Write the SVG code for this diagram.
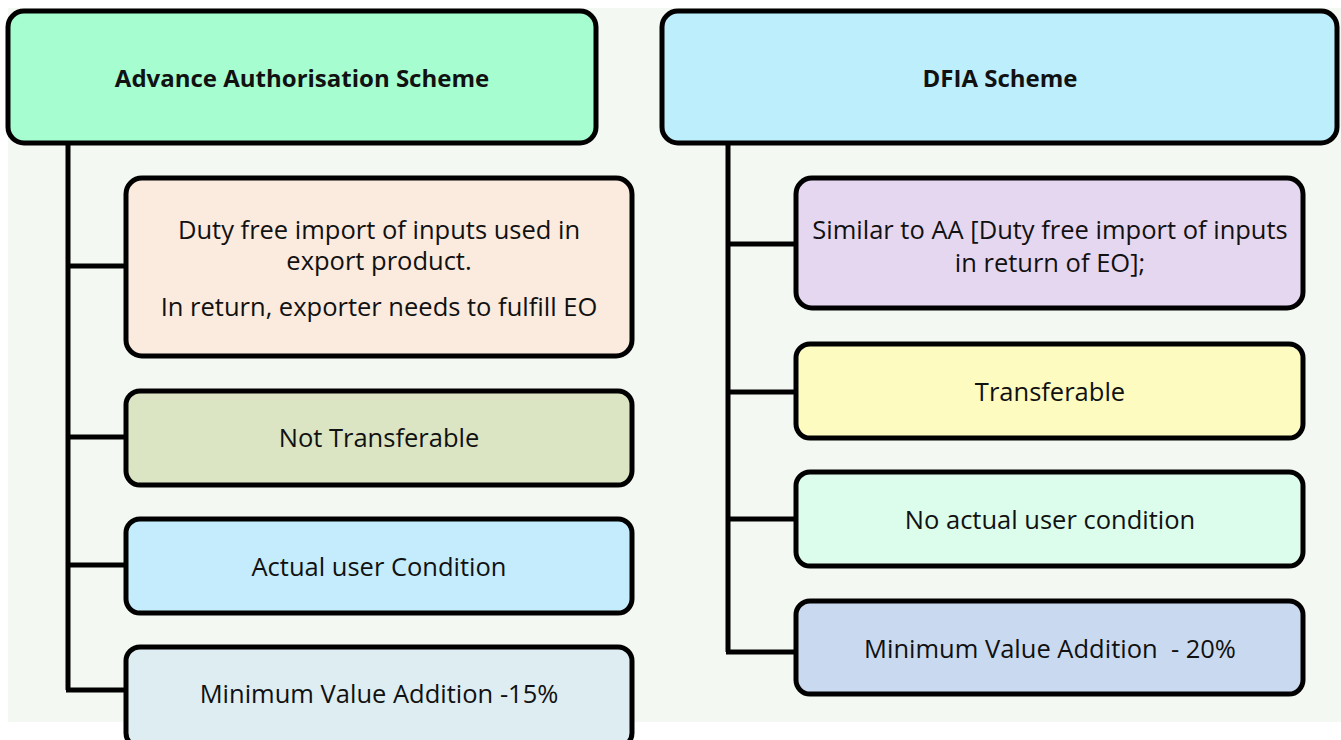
<svg xmlns="http://www.w3.org/2000/svg" width="1341" height="740" viewBox="0 0 1341 740">
<style>
.box{stroke:#000;stroke-width:5}
.conn{stroke:#000;stroke-width:5;fill:none}
text{font-family:"Open Sans",Lato,sans-serif;font-size:25.5px;fill:#111;text-anchor:middle;dominant-baseline:central}
.h{font-weight:bold;font-size:24px}
</style>
<rect x="0" y="0" width="1341" height="740" fill="#ffffff"/>
<rect x="8" y="8" width="1333" height="714" fill="#f4f8f2"/>
<g id="connectors">
<path class="conn" d="M68 143 V690 M66 266 H126 M66 437 H126 M66 565 H126 M66 690 H126"/>
<path class="conn" d="M728 143 V652 M726 244 H796 M726 392 H796 M726 519 H796 M726 652 H796"/>
</g>
<g id="aa-header"><rect class="box" x="8" y="11" width="588" height="132" rx="16" fill="#a6fdd0"/><text class="h" x="302" y="77">Advance Authorisation Scheme</text></g>
<g id="aa-1"><rect class="box" x="126" y="178" width="506" height="178" rx="16" fill="#fbeade"/><text x="379" y="229">Duty free import of inputs used in</text><text x="379" y="260">export product.</text><text x="379" y="306">In return, exporter needs to fulfill EO</text></g>
<g id="aa-2"><rect class="box" x="126" y="391" width="506" height="94" rx="14" fill="#dbe5c3"/><text x="379" y="437">Not Transferable</text></g>
<g id="aa-3"><rect class="box" x="126" y="519" width="506" height="94" rx="14" fill="#c5ecfc"/><text x="379" y="566">Actual user Condition</text></g>
<g id="aa-4"><rect class="box" x="126" y="647" width="506" height="100" rx="14" fill="#ddedf2"/><text x="379" y="693">Minimum Value Addition -15%</text></g>
<g id="dfia-header"><rect class="box" x="662" y="11" width="675" height="132" rx="16" fill="#bdeefc"/><text class="h" x="1000" y="77">DFIA Scheme</text></g>
<g id="dfia-1"><rect class="box" x="796" y="178" width="507" height="130" rx="16" fill="#e6d7f0"/><text x="1050" y="229">Similar to AA [Duty free import of inputs</text><text x="1050" y="262">in return of EO];</text></g>
<g id="dfia-2"><rect class="box" x="796" y="344" width="507" height="94" rx="14" fill="#fdfbc0"/><text x="1050" y="391">Transferable</text></g>
<g id="dfia-3"><rect class="box" x="796" y="472" width="507" height="94" rx="14" fill="#dcfdeb"/><text x="1050" y="519">No actual user condition</text></g>
<g id="dfia-4"><rect class="box" x="796" y="601" width="507" height="93" rx="14" fill="#c9daf0"/><text x="1050" y="648" xml:space="preserve">Minimum Value Addition  - 20%</text></g>
</svg>
